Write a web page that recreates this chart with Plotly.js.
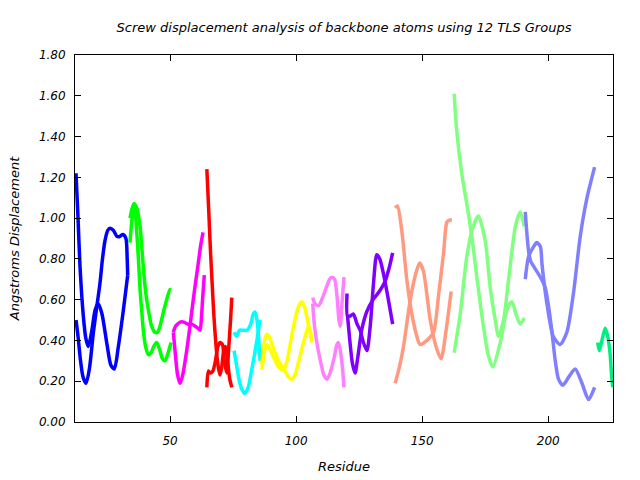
<!DOCTYPE html>
<html>
<head>
<meta charset="utf-8">
<script src="https://cdn.plot.ly/plotly-3.0.1.min.js"></script>
<style>html,body{margin:0;padding:0;background:#fff;}#chart{width:640px;height:480px;}</style>
</head>
<body>
<div id="chart"></div>
<script>
// TLS group 1
const res1a = [12.7, 13.5, 14.3, 15.6, 16.6, 17.6, 19.0, 20.3, 21.5, 23.0, 25.0, 26.5, 27.9, 29.5, 31.5, 32.8, 33.2];
const disp1a = [1.22, 1.00, 0.76, 0.52, 0.41, 0.37, 0.45, 0.55, 0.58, 0.53, 0.38, 0.28, 0.26, 0.37, 0.55, 0.68, 0.72];
const res1b = [12.7, 13.5, 14.5, 15.5, 16.7, 18.0, 19.6, 21.0, 22.2, 23.2, 24.2, 25.3, 26.2, 27.5, 29.0, 30.0, 31.3, 32.5, 33.0, 33.2];
const disp1b = [0.50, 0.42, 0.30, 0.22, 0.19, 0.26, 0.44, 0.57, 0.68, 0.80, 0.89, 0.94, 0.95, 0.94, 0.91, 0.91, 0.92, 0.90, 0.80, 0.72];
// TLS group 2
const res2a = [34.1, 35.0, 35.7, 36.3, 36.8, 37.5, 38.1, 38.8, 39.4, 40.3, 41.4, 42.5, 43.5, 44.7, 46.0, 47.0, 48.0, 49.0, 50.4];
const disp2a = [1.00, 1.05, 1.07, 1.02, 0.93, 0.79, 0.65, 0.54, 0.45, 0.37, 0.33, 0.34, 0.37, 0.39, 0.35, 0.31, 0.30, 0.33, 0.39];
const res2b = [34.1, 34.8, 35.7, 36.8, 38.1, 39.4, 40.4, 41.4, 42.7, 44.0, 45.0, 46.0, 48.0, 50.0, 50.4];
const disp2b = [0.88, 0.98, 1.07, 1.05, 0.96, 0.76, 0.63, 0.55, 0.47, 0.44, 0.44, 0.47, 0.57, 0.65, 0.65];
// TLS group 3
const res3a = [51.3, 52.2, 53.0, 54.0, 55.0, 56.6, 58.0, 59.2, 60.2, 61.2, 62.2, 63.1];
const disp3a = [0.44, 0.32, 0.23, 0.19, 0.23, 0.35, 0.48, 0.60, 0.69, 0.78, 0.87, 0.93];
const res3b = [51.3, 52.2, 53.0, 54.0, 55.5, 57.0, 58.5, 60.0, 61.0, 61.9, 62.5, 63.0, 63.6];
const disp3b = [0.44, 0.47, 0.48, 0.49, 0.49, 0.48, 0.48, 0.47, 0.46, 0.45, 0.52, 0.62, 0.72];
// TLS group 4
const res4a = [64.6, 65.3, 66.0, 66.7, 67.4, 68.2, 69.0, 69.8, 70.5, 71.3, 72.0, 72.8, 73.7, 74.5];
const disp4a = [1.24, 1.05, 0.85, 0.68, 0.52, 0.38, 0.28, 0.23, 0.27, 0.35, 0.37, 0.30, 0.21, 0.17];
const res4b = [64.6, 65.2, 66.0, 67.0, 68.0, 69.0, 69.8, 70.8, 71.5, 72.5, 73.2, 74.0, 74.5];
const disp4b = [0.17, 0.25, 0.24, 0.25, 0.30, 0.37, 0.39, 0.38, 0.30, 0.24, 0.35, 0.50, 0.61];
// TLS group 5
const res5a = [75.4, 76.4, 77.5, 79.0, 80.5, 82.0, 83.0, 83.7, 84.5, 85.2, 85.7];
const disp5a = [0.44, 0.42, 0.45, 0.45, 0.45, 0.48, 0.53, 0.54, 0.50, 0.40, 0.30];
const res5b = [75.4, 76.5, 77.5, 78.5, 79.6, 81.0, 82.3, 83.5, 84.7, 85.7];
const disp5b = [0.35, 0.27, 0.20, 0.16, 0.14, 0.17, 0.25, 0.33, 0.42, 0.50];
// TLS group 6
const res6a = [86.4, 87.0, 87.7, 88.4, 89.3, 90.5, 92.0, 93.5, 95.6, 97.0, 98.3, 99.5, 100.9, 102.3, 103.6, 104.9, 105.6, 106.2];
const disp6a = [0.28, 0.36, 0.41, 0.43, 0.42, 0.38, 0.33, 0.29, 0.25, 0.22, 0.21, 0.23, 0.29, 0.36, 0.42, 0.47, 0.45, 0.40];
const res6b = [86.4, 87.0, 87.7, 88.4, 89.5, 91.0, 92.5, 94.0, 95.0, 96.2, 97.5, 99.0, 100.5, 101.5, 102.3, 103.5, 104.5, 105.5, 106.2];
const disp6b = [0.26, 0.30, 0.36, 0.38, 0.36, 0.32, 0.28, 0.26, 0.255, 0.29, 0.37, 0.47, 0.55, 0.58, 0.59, 0.56, 0.50, 0.44, 0.39];
// TLS group 7
const res7a = [106.6, 107.5, 108.9, 110.5, 112.0, 113.3, 114.2, 115.3, 116.2, 117.0, 117.5, 118.2, 119.0];
const disp7a = [0.61, 0.58, 0.57, 0.61, 0.66, 0.70, 0.71, 0.70, 0.62, 0.50, 0.47, 0.58, 0.71];
const res7b = [106.6, 107.3, 108.5, 110.0, 111.0, 112.2, 113.5, 115.0, 116.2, 116.8, 117.8, 118.5, 119.0];
const disp7b = [0.58, 0.47, 0.37, 0.28, 0.23, 0.21, 0.24, 0.31, 0.38, 0.39, 0.33, 0.25, 0.17];
// TLS group 8
const res8a = [120.2, 120.4, 121.5, 122.7, 124.2, 125.4, 126.7, 128.1, 129.4, 130.7, 132.0, 133.2, 134.6, 136.6, 138.3];
const disp8a = [0.63, 0.52, 0.52, 0.53, 0.48, 0.45, 0.39, 0.35, 0.47, 0.68, 0.82, 0.80, 0.73, 0.60, 0.48];
const res8b = [120.4, 121.3, 122.3, 123.4, 124.5, 126.0, 128.0, 130.5, 133.0, 135.3, 137.0, 138.3];
const disp8b = [0.52, 0.40, 0.29, 0.24, 0.32, 0.45, 0.54, 0.60, 0.64, 0.69, 0.76, 0.83];
// TLS group 9
const res9a = [139.3, 140.2, 141.9, 143.9, 145.9, 147.9, 149.2, 151.9, 154.5, 156.5, 158.5, 159.8, 160.8, 161.8];
const disp9a = [1.05, 1.06, 0.94, 0.70, 0.53, 0.42, 0.38, 0.40, 0.44, 0.62, 0.83, 0.98, 0.99, 0.99];
const res9b = [139.3, 141.0, 142.6, 145.3, 147.5, 149.0, 150.5, 153.2, 155.5, 157.5, 159.5, 161.5];
const disp9b = [0.19, 0.27, 0.37, 0.60, 0.73, 0.78, 0.74, 0.50, 0.37, 0.31, 0.45, 0.64];
// TLS group 10
const res10a = [162.7, 163.7, 165.7, 167.7, 169.7, 171.7, 174.3, 176.2, 178.0, 181.0, 183.6, 185.6, 187.2, 188.9, 190.5];
const disp10a = [1.61, 1.43, 1.22, 1.07, 0.91, 0.71, 0.47, 0.33, 0.27, 0.39, 0.55, 0.59, 0.53, 0.48, 0.51];
const res10b = [162.7, 165.1, 167.7, 170.0, 172.3, 175.0, 177.0, 179.0, 180.3, 182.3, 184.3, 187.0, 188.9, 190.5];
const disp10b = [0.34, 0.53, 0.81, 0.95, 1.01, 0.89, 0.66, 0.50, 0.42, 0.50, 0.70, 0.96, 1.03, 0.96];
// TLS group 11
const res11a = [190.9, 191.5, 192.2, 193.0, 194.9, 196.9, 198.8, 200.1, 201.5, 202.8, 204.1, 205.8, 208.1, 210.7, 213.4, 216.0, 218.4];
const disp11a = [1.03, 0.93, 0.84, 0.79, 0.75, 0.71, 0.66, 0.57, 0.44, 0.30, 0.21, 0.18, 0.22, 0.26, 0.19, 0.11, 0.17];
const res11b = [190.9, 192.2, 194.2, 195.5, 196.9, 197.5, 198.2, 199.5, 202.0, 204.7, 207.4, 210.0, 212.7, 215.4, 218.4];
const disp11b = [0.70, 0.81, 0.86, 0.88, 0.86, 0.78, 0.70, 0.58, 0.42, 0.38, 0.44, 0.63, 0.91, 1.10, 1.25];
// TLS group 12
const res12a = [219.6, 220.3, 221.5, 222.6, 223.6, 224.5, 225.2, 225.6];
const disp12a = [0.39, 0.35, 0.41, 0.46, 0.42, 0.34, 0.22, 0.17];

const groupColors = ["#0000ff", "#00ff00", "#ff00ff", "#ff0000", "#00ffff", "#ffff00",
                     "#ff80ff", "#8000ff", "#ff9980", "#80ff80", "#8080ff", "#00ee80"];
const yTickVals = [0, 0.2, 0.4, 0.6, 0.8, 1.0, 1.2, 1.4, 1.6, 1.8];
const xTickVals = [50, 100, 150, 200];

const series = [
  [res1a, disp1a, 0], [res1b, disp1b, 0],
  [res2a, disp2a, 1], [res2b, disp2b, 1],
  [res3a, disp3a, 2], [res3b, disp3b, 2],
  [res4a, disp4a, 3], [res4b, disp4b, 3],
  [res5a, disp5a, 4], [res5b, disp5b, 4],
  [res6a, disp6a, 5], [res6b, disp6b, 5],
  [res7a, disp7a, 6], [res7b, disp7b, 6],
  [res8a, disp8a, 7], [res8b, disp8b, 7],
  [res9a, disp9a, 8], [res9b, disp9b, 8],
  [res10a, disp10a, 9], [res10b, disp10b, 9],
  [res11a, disp11a, 10], [res11b, disp11b, 10],
  [res12a, disp12a, 11]
];

const traces = series.map(s => ({
  x: s[0], y: s[1], type: 'scatter', mode: 'lines',
  line: {color: groupColors[s[2]], width: 3.5, shape: 'spline', smoothing: 0.7},
  hoverinfo: 'skip', showlegend: false
}));

const tickFnt = {family: 'DejaVu Sans', size: 12, color: '#000', style: 'italic'};
const titleFnt = {family: 'DejaVu Sans', size: 13, color: '#000', style: 'italic'};

const layout = {
  width: 640, height: 480,
  margin: {l: 75, r: 27, t: 55, b: 58},
  paper_bgcolor: '#fff', plot_bgcolor: '#fff',
  font: tickFnt,
  title: {text: 'Screw displacement analysis of backbone atoms using 12 TLS Groups',
          font: titleFnt, x: 0.5, xref: 'paper', y: 1 - 27/480, yref: 'container', yanchor: 'middle'},
  xaxis: {
    range: [12.3, 225.7], tickvals: xTickVals, ticktext: xTickVals.map(String),
    ticks: 'inside', ticklen: 6, tickcolor: '#000', tickwidth: 1, ticklabelstandoff: 8,
    showline: true, linecolor: '#000', linewidth: 1, mirror: 'ticks',
    showgrid: false, zeroline: false, tickfont: tickFnt,
    title: {text: 'Residue', font: titleFnt, standoff: 14}
  },
  yaxis: {
    range: [0, 1.8], tickvals: yTickVals, ticktext: yTickVals.map(v => v.toFixed(2)),
    ticks: 'inside', ticklen: 6, tickcolor: '#000', tickwidth: 1, ticklabelstandoff: 6,
    showline: true, linecolor: '#000', linewidth: 1, mirror: 'ticks',
    showgrid: false, zeroline: false, tickfont: tickFnt,
    title: {text: 'Angstroms Displacement', font: titleFnt, standoff: 16}
  }
};

Plotly.newPlot('chart', traces, layout, {displayModeBar: false, staticPlot: true});
</script>
</body>
</html>
